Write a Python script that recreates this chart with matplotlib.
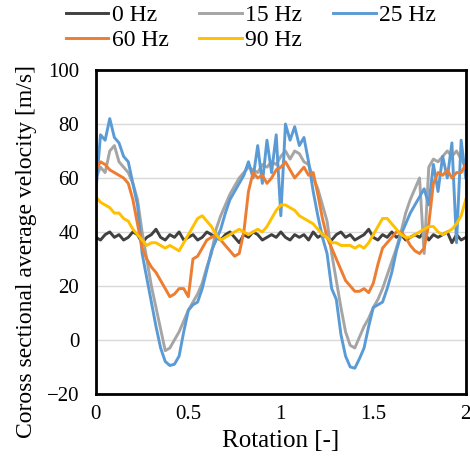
import matplotlib
matplotlib.use('Agg')
import matplotlib.pyplot as plt
import numpy as np

plt.rcParams['font.family'] = ['Liberation Serif', 'DejaVu Serif']

# rotation sampled every 0.025
rotation = np.arange(81) * 0.025

v_0hz = [38, 37, 39, 40, 38, 39, 37, 38, 40, 39,
         36, 38, 39, 41, 38, 37, 39, 38, 40, 37,
         38, 39, 37, 38, 40, 39, 38, 37, 39, 40,
         38, 36, 39, 38, 40, 39, 37, 38, 39, 38,
         40, 38, 37, 39, 38, 39, 37, 40, 38, 39,
         38, 37, 39, 40, 38, 39, 37, 38, 39, 41,
         38, 37, 39, 38, 40, 38, 39, 37, 38, 39,
         38, 40, 37, 39, 38, 39, 40, 36, 39, 37,
         38]

v_15hz = [60, 64, 62, 70, 72, 66, 64, 62, 58, 52,
          40, 30, 20, 12, 4, -4, -3, 0, 3, 7,
          11, 14, 17, 21, 27, 32, 41, 46, 50, 54,
          57, 60, 62, 64, 63, 62, 65, 64, 66, 65,
          68, 70, 67, 70, 69, 66, 65, 60, 56, 50,
          44, 32, 22, 12, 3, -2, -3, 1, 5, 8,
          12, 15, 19, 24, 29, 34, 40, 47, 52, 56,
          60, 32, 64, 67, 66, 68, 70, 68, 70, 67,
          64]

v_25hz = [55, 76, 74, 82, 75, 73, 68, 66, 58, 50,
          32, 23, 14, 5, -3, -8, -9.5, -9, -6, 3,
          11, 13, 14, 19, 26, 33, 37, 41, 47, 52,
          55, 58, 61, 66, 60, 72, 58, 74, 62, 76,
          46, 80, 74, 79, 72, 75, 66, 55, 46, 38,
          32, 19, 15, 2, -6, -10, -10.5, -7, -3, 5,
          12, 13, 14, 19, 25, 33, 39, 43, 47, 50,
          53, 56, 50, 65, 55, 68, 60, 73, 36, 74,
          60]

v_60hz = [63, 66, 65, 63, 62, 61, 60, 58, 52, 43,
          34, 30, 27, 25, 22, 19, 16, 17, 19, 19,
          16, 30, 31, 34, 37, 38, 39, 37, 35, 33,
          31, 32, 40, 55, 62, 60, 61, 58, 60, 63,
          64, 66, 63, 60, 62, 64, 61, 62, 54, 45,
          38, 34, 30, 26, 22, 20, 18, 18, 19, 17.5,
          21, 28, 34, 36, 38, 40, 40, 38, 35, 33,
          32, 34, 43, 58, 62, 61, 63, 60, 62, 62,
          65]

v_90hz = [53, 51, 50, 49, 47, 47, 45, 44, 41, 39,
          37, 35, 36, 36, 35, 34, 35, 34, 33, 36,
          39, 42, 45, 46, 44, 42, 39, 37, 38, 39,
          40, 41, 40, 39, 40, 41, 40, 42, 45, 48,
          50, 50, 49, 48, 46, 45, 44, 43, 41, 39,
          38, 36, 36, 35, 35, 35, 34, 35, 34, 36,
          39, 42, 45, 45, 43, 41, 39, 38, 38, 39,
          40, 41, 42, 42, 40, 39, 40, 41, 43, 46,
          52]

labels = ['0 Hz', '15 Hz', '25 Hz', '60 Hz', '90 Hz']
colors = ['#404040', '#A5A5A5', '#5B9BD5', '#ED7D31', '#FFC000']
series = [v_0hz, v_15hz, v_25hz, v_60hz, v_90hz]

fig = plt.figure(figsize=(4.7, 4.7), dpi=100)
ax = fig.add_axes([0.204, 0.162, 0.787, 0.689])

lines = []
for vals, c, lab in zip(series, colors, labels):
    ln, = ax.plot(rotation, vals, color=c, lw=2.1, label=lab)
    lines.append(ln)

ax.set_xlim(0, 2)
ax.set_ylim(-20, 100)
ax.set_xticks([0, 0.5, 1, 1.5, 2])
ax.set_xticklabels(['0', '0.5', '1', '1.5', '2'])
ax.set_yticks(range(-20, 101, 20))
ax.yaxis.grid(True, color='#D9D9D9', lw=1)
ax.set_axisbelow(True)
ax.tick_params(length=0, labelsize=15, pad=8)
ax.tick_params(axis='y', pad=12)
for s in ax.spines.values():
    s.set_linewidth(2)
    s.set_color('black')

ax.set_xlabel('Rotation [-]', fontsize=18, labelpad=4)
ax.set_ylabel('Coross sectional average velocity [m/s]', fontsize=17)
ax.yaxis.set_label_coords(-0.16, 0.44)

# row-major legend: 0, 15, 25 / 60, 90
order = [0, 3, 1, 4, 2]
fig.legend([lines[i] for i in order], [labels[i] for i in order],
           loc='upper left', bbox_to_anchor=(0.135, 0.995), ncol=3, frameon=False,
           fontsize=17, handlelength=1.8, handletextpad=0.15, columnspacing=1.3,
           labelspacing=0.15, borderaxespad=0, borderpad=0.1)

fig.savefig('out.png', dpi=100)
